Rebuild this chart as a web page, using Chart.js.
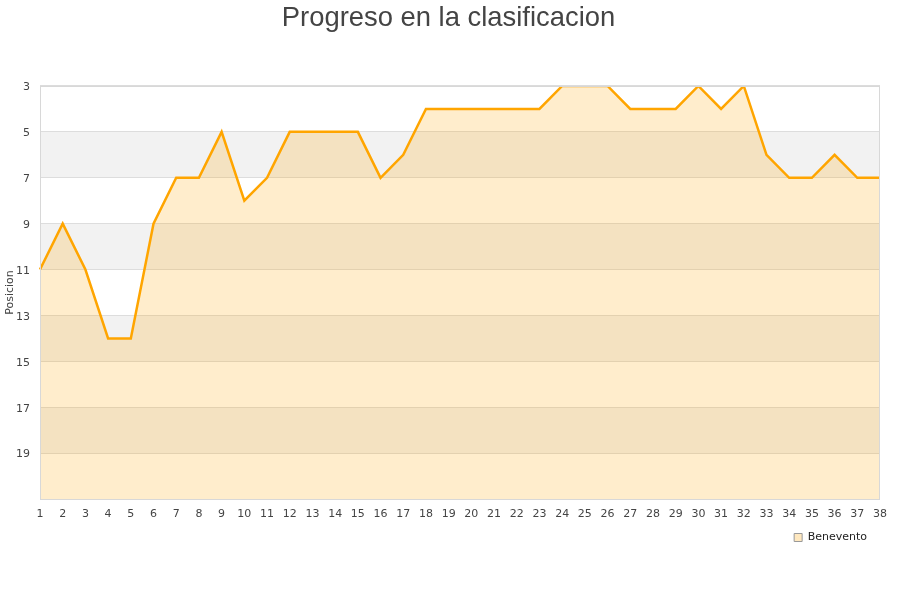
<!DOCTYPE html>
<html>
<head>
<meta charset="utf-8">
<script src="https://cdn.jsdelivr.net/npm/chart.js@4"></script>
<style>
  html, body { margin: 0; padding: 0; background: #fff; }
  #wrap { width: 900px; height: 600px; position: relative; }
</style>
</head>
<body>
<div id="wrap"><canvas id="chart"></canvas></div>
<script>
// jornadas 1..38
const jornadas = [];
for (let j = 1; j <= 38; j++) jornadas.push(String(j));

// posicion del Benevento en cada jornada
const benevento = [11, 9, 11, 14, 14, 9, 7, 7, 5, 8,
                   7, 5, 5, 5, 5, 7, 6, 4, 4, 4,
                   4, 4, 4, 3, 3, 3, 4, 4, 4, 3,
                   4, 3, 6, 7, 7, 6, 7, 7];

const yMin = 3;
const yMax = 21;
// franjas grises alternas (desde, hasta)
const bands = [[5, 7], [9, 11], [13, 15], [17, 19]];

const tickFont = { family: "'DejaVu Sans', sans-serif", size: 11 };

// fondo de franjas + borde del area
const bandsPlugin = {
    id: 'bands',
    beforeDraw(chart) {
        const { ctx, chartArea: a, scales } = chart;
        ctx.save();
        ctx.fillStyle = '#f2f2f2';
        bands.forEach(([from, to]) => {
            const y1 = scales.y.getPixelForValue(from);
            const y2 = scales.y.getPixelForValue(to);
            ctx.fillRect(a.left, y1, a.right - a.left, y2 - y1);
        });
        ctx.restore();
    },
    afterLayout(chart) {
        // leyenda un poco a la izquierda y arriba, titulo centrado en el lienzo
        const lg = chart.legend;
        if (lg) {
            lg.right -= 7;
            lg.top -= 3;
            lg.bottom -= 3;
        }
        const tb = chart.titleBlock;
        if (tb) {
            tb.right += 17;
            tb.width += 17;
        }
    },
    afterDraw(chart) {
        const { ctx, chartArea: a } = chart;
        ctx.save();
        ctx.strokeStyle = '#d8d8d8';
        ctx.lineWidth = 1;
        ctx.strokeRect(a.left + 0.5, a.top + 0.5, a.right - a.left - 1, a.bottom - a.top);
        ctx.restore();
    }
};

new Chart(document.getElementById('chart'), {
    type: 'line',
    data: {
        labels: jornadas,
        datasets: [{
            label: 'Benevento',
            data: benevento,
            borderColor: '#ffa500',
            backgroundColor: 'rgba(255,165,0,0.2)',
            borderWidth: 2.5,
            pointRadius: 0,
            tension: 0,
            fill: { value: yMax }
        }]
    },
    options: {
        responsive: true,
        maintainAspectRatio: false,
        animation: false,
        layout: { padding: { left: 0, right: 20, top: 0, bottom: 44 } },
        plugins: {
            title: {
                display: true,
                text: 'Progreso en la clasificacion',
                color: '#444',
                font: { family: "'Liberation Sans', Arial, sans-serif", size: 27.4, weight: 'normal' },
                padding: { top: 2, bottom: 51.1 }
            },
            legend: {
                position: 'bottom',
                align: 'end',
                labels: {
                    boxWidth: 8,
                    boxHeight: 8,
                    padding: 6,
                    color: '#222',
                    font: tickFont,
                    generateLabels(chart) {
                        const items = Chart.defaults.plugins.legend.labels.generateLabels(chart);
                        items.forEach(it => {
                            it.fillStyle = 'rgba(255,165,0,0.25)';
                            it.strokeStyle = '#999999';
                            it.lineWidth = 1;
                        });
                        return items;
                    }
                }
            },
            tooltip: { enabled: false }
        },
        scales: {
            x: {
                offset: false,
                grid: { display: false, drawTicks: false },
                border: { display: false },
                ticks: { color: '#444', font: tickFont, padding: 9, maxRotation: 0, autoSkip: false },
                afterFit(scale) { scale.height = 30; }
            },
            y: {
                reverse: true,
                min: yMin,
                max: yMax,
                grid: { color: '#dddddd', drawTicks: false },
                border: { display: false },
                ticks: {
                    stepSize: 2,
                    color: '#444',
                    font: tickFont,
                    padding: 10,
                    labelOffset: 1.5,
                    callback: (v) => (v === yMax ? '' : v)
                },
                title: {
                    display: true,
                    text: 'Posicion',
                    color: '#444',
                    font: { family: "'DejaVu Sans', sans-serif", size: 11 },
                    padding: { top: 4, bottom: 0 }
                },
                afterFit(scale) { scale.width = 40; }
            }
        }
    },
    plugins: [bandsPlugin]
});
</script>
</body>
</html>
